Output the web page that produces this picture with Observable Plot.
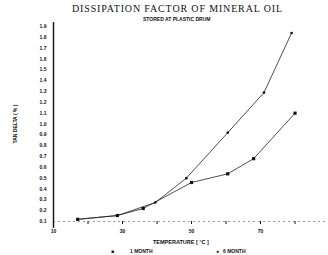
<!DOCTYPE html>
<html>
<head>
<meta charset="utf-8">
<script src="https://cdn.jsdelivr.net/npm/d3@7"></script>
<script src="https://cdn.jsdelivr.net/npm/@observablehq/plot@0.6"></script>
<style>
  html, body { margin: 0; padding: 0; background: #fff; }
  #wrap { position: relative; width: 328px; height: 255px; overflow: hidden; background: #fff; }
  .t { position: absolute; white-space: nowrap; color: #111; line-height: 1; }
  #title { top: 3px; left: 72px; font: 10px "Liberation Serif", serif; letter-spacing: 0.85px; }
  #subtitle { top: 16px; left: 143px; font: bold 5px "Liberation Sans", sans-serif; }
  #xlabel { top: 239px; left: 153px; font: bold 5.5px "Liberation Sans", sans-serif; }
  .leg { top: 248px; font: bold 5px "Liberation Sans", sans-serif; }
  #plot { position: absolute; top: 22px; left: 0; }
</style>
</head>
<body>
<div id="wrap">
  <div class="t" id="title">DISSIPATION FACTOR OF MINERAL OIL</div>
  <div class="t" id="subtitle">STORED AT PLASTIC DRUM</div>
  <div id="plot"></div>
  <div class="t" id="xlabel">TEMPERATURE [ °C ]</div>
  <div class="t leg" style="left:111px">■</div>
  <div class="t leg" style="left:130px">1 MONTH</div>
  <div class="t leg" style="left:216px">●</div>
  <div class="t leg" style="left:223px">6 MONTH</div>
</div>
<script>
// Series: 1 month (squares, lower) and 6 month (dots, upper)
const temp1 = [17, 28.5, 36, 50, 60.5, 68, 80];
const tand1 = [0.12, 0.155, 0.22, 0.46, 0.54, 0.68, 1.10];
const temp6 = [17, 28.5, 39.5, 48.5, 60.5, 71, 79];
const tand6 = [0.12, 0.155, 0.275, 0.50, 0.92, 1.29, 1.84];
const xTicks = [10, 30, 50, 70];
const xMinor = [10, 20, 30, 40, 50, 60, 70, 80];
const yTicks = [0.1,0.2,0.3,0.4,0.5,0.6,0.7,0.8,0.9,1.0,1.1,1.2,1.3,1.4,1.5,1.6,1.7,1.8,1.9];

const d1 = temp1.map((t, i) => ({t, v: tand1[i]}));
const d6 = temp6.map((t, i) => ({t, v: tand6[i]}));

const chart = Plot.plot({
  width: 328,
  height: 224,
  marginLeft: 53,
  marginRight: 0,
  marginTop: 4,
  marginBottom: 25,
  style: {fontFamily: "Liberation Sans, sans-serif", fontSize: "5px", fontWeight: "bold", color: "#111", background: "transparent"},
  x: {domain: [10, 89.7]},
  y: {domain: [0.1, 1.9]},
  marks: [
    Plot.axisY({ticks: yTicks, tickSize: 0, tickPadding: 7, tickFormat: d3.format(".1f"),
      label: "TAN DELTA ( % )", labelAnchor: "center", labelOffset: 40, labelArrow: "none"}),
    Plot.axisX({ticks: xMinor, tickSize: 3, tickFormat: () => "", label: null}),
    Plot.axisX({ticks: xTicks, tickSize: 0, tickPadding: 8, tickFormat: d3.format("d"), label: null}),
    Plot.ruleY([0.1], {stroke: "#555", strokeWidth: 0.6, strokeDasharray: "2,3"}),
    Plot.ruleX([10], {y1: 0.035, y2: 1.94, stroke: "#111", strokeWidth: 1.4}),
    Plot.line(d1, {x: "t", y: "v", stroke: "#222", strokeWidth: 0.8}),
    Plot.line(d6, {x: "t", y: "v", stroke: "#222", strokeWidth: 0.8}),
    Plot.dot(d1, {x: "t", y: "v", symbol: "square", r: 1.8, fill: "#111", stroke: "none"}),
    Plot.dot(d6, {x: "t", y: "v", r: 1.3, fill: "#111", stroke: "none"})
  ]
});
document.getElementById("plot").appendChild(chart);
</script>
</body>
</html>
